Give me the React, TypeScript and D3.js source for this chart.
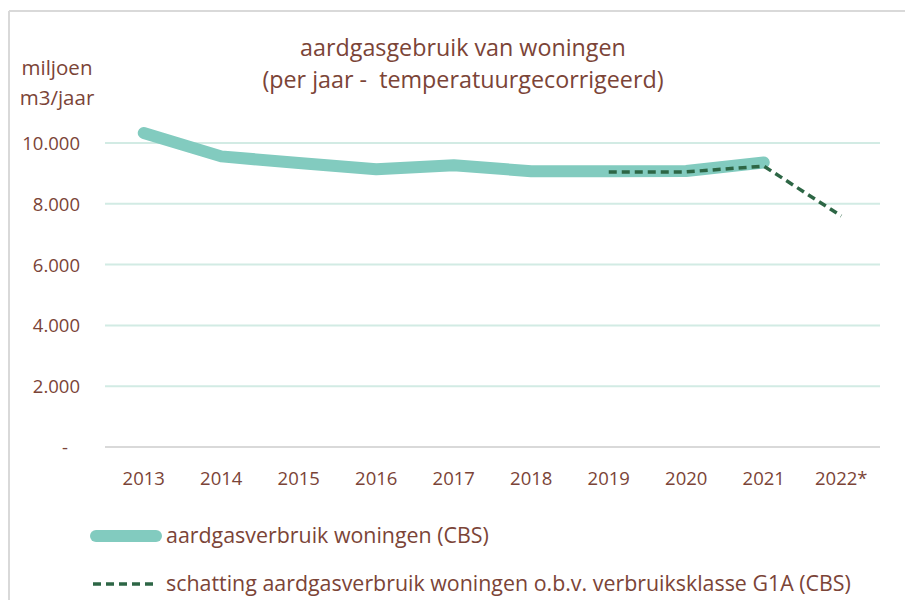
import React from "react";
import * as d3 from "d3";

const years = ["2013", "2014", "2015", "2016", "2017", "2018", "2019", "2020", "2021", "2022*"];
const cbsValues: (number | null)[] = [10330, 9560, 9340, 9140, 9270, 9070, 9070, 9080, 9360, null];
const g1aValues: (number | null)[] = [null, null, null, null, null, null, 9050, 9050, 9240, 7600];
const yTicks = [0, 2000, 4000, 6000, 8000, 10000];
const titleLines = ["aardgasgebruik van woningen", "(per jaar -  temperatuurgecorrigeerd)"];
const yUnitLines = ["miljoen", "m3/jaar"];
const legendLabels = [
  "aardgasverbruik woningen (CBS)",
  "schatting aardgasverbruik woningen o.b.v. verbruiksklasse G1A (CBS)",
];

const W = 905;
const H = 600;
const FONT = "'Open Sans', sans-serif";
const TEXT = "#7b4437";
const TEAL = "#82cbbf";
const DARK = "#2d6645";

export default function App() {
  const x = d3.scaleBand<string>().domain(years).range([105, 880]);
  const y = d3.scaleLinear().domain([0, 10000]).range([447, 143]);
  const cx = (d: string) => (x(d) as number) + x.bandwidth() / 2;
  const fmt = (v: number) => (v === 0 ? "-" : d3.format(",")(v).replace(/,/g, "."));

  const mk = (vals: (number | null)[]) =>
    d3
      .line<number | null>()
      .defined((d) => d !== null)
      .x((_, i) => cx(years[i]))
      .y((d) => y(d as number))(vals) as string;

  return (
    <svg width={W} height={H} style={{ position: "absolute", left: 0, top: 0 }} fontFamily={FONT}>
      <rect x={0} y={0} width={W} height={H} fill="#fff" />
      <line x1={9} y1={11} x2={W} y2={11} stroke="#d9d9d9" strokeWidth={2} />
      <line x1={9} y1={11} x2={9} y2={H} stroke="#d9d9d9" strokeWidth={2} />
      {titleLines.map((t, i) => (
        <text key={t} x={463} y={56 + i * 32} textAnchor="middle" fontSize={23.3} fill={TEXT} style={{ whiteSpace: "pre" }}>
          {t}
        </text>
      ))}
      {yUnitLines.map((t, i) => (
        <text key={t} x={57} y={75 + i * 30} textAnchor="middle" fontSize={20.5} fill={TEXT}>
          {t}
        </text>
      ))}
      {yTicks.map((t) => (
        <g key={t}>
          <line
            x1={105}
            x2={880}
            y1={y(t)}
            y2={y(t)}
            stroke={t === 0 ? "#d9d9d9" : "#d2ebe4"}
            strokeWidth={2}
          />
          <text x={t === 0 ? 68 : 80} y={y(t) + 7} textAnchor="end" fontSize={18.5} fill={TEXT}>
            {fmt(t)}
          </text>
        </g>
      ))}
      {years.map((yr) => (
        <text key={yr} x={cx(yr)} y={485} textAnchor="middle" fontSize={18.5} fill={TEXT}>
          {yr}
        </text>
      ))}
      <path d={mk(cbsValues)} fill="none" stroke={TEAL} strokeWidth={12} strokeLinecap="round" strokeLinejoin="round" />
      <path d={mk(g1aValues)} fill="none" stroke={DARK} strokeWidth={3.5} strokeDasharray="8,5" />
      <line x1={96} x2={156} y1={536} y2={536} stroke={TEAL} strokeWidth={12} strokeLinecap="round" />
      <text x={166} y={543} fontSize={21.4} fill={TEXT}>{legendLabels[0]}</text>
      <line x1={93} x2={158} y1={584} y2={584} stroke={DARK} strokeWidth={3.5} strokeDasharray="8,5" />
      <text x={166} y={591} fontSize={21.4} fill={TEXT}>{legendLabels[1]}</text>
    </svg>
  );
}
